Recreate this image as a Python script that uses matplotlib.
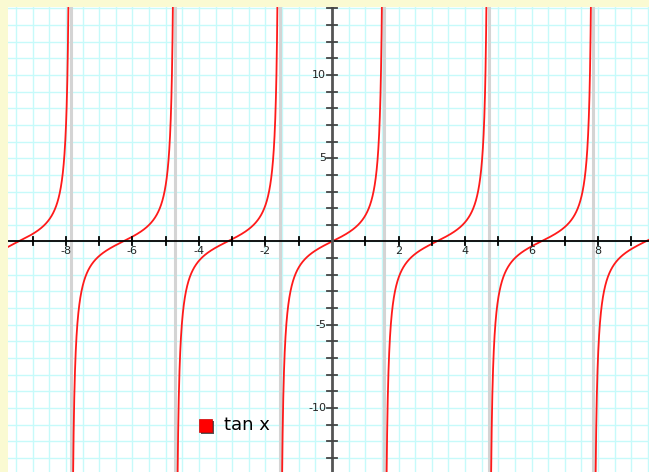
import numpy as np
import matplotlib
matplotlib.use("Agg")
import matplotlib.pyplot as plt
from matplotlib.patches import Rectangle

# Viewing window
x_min, x_max = -9.74, 9.53
y_min, y_max = -13.84, 14.08

# Axis labels
x_tick_labels = [-8, -6, -4, -2, 2, 4, 6, 8]
y_tick_labels = [-10, -5, 5, 10]

# Vertical asymptotes of tan x inside the window
asymptotes = [-5 * np.pi / 2, -3 * np.pi / 2, -np.pi / 2,
              np.pi / 2, 3 * np.pi / 2, 5 * np.pi / 2]

legend_label = "tan x"

W, H = 649, 472
fig = plt.figure(figsize=(W / 100, H / 100), dpi=100)
fig.patch.set_facecolor("#fafad2")
ax = fig.add_axes([8 / W, 0, (W - 8) / W, (H - 7) / H])
ax.set_facecolor("white")
ax.set_xlim(x_min, x_max)
ax.set_ylim(y_min, y_max)
for s in ax.spines.values():
    s.set_visible(False)
ax.set_xticks([])
ax.set_yticks([])

grid_c = "#c6fafa"
for gx in np.arange(np.ceil(x_min * 2) / 2, x_max, 0.5):
    ax.axvline(gx, color=grid_c, lw=1.0, zorder=0)
for gy in np.arange(np.ceil(y_min), y_max, 1.0):
    ax.axhline(gy, color=grid_c, lw=1.0, zorder=0)

# asymptote guides
for a in asymptotes:
    ax.axvline(a, color="#d4d4d4", lw=2.2, zorder=1)

# tan x, split at asymptotes
x = np.linspace(x_min, x_max, 8000)
y = np.tan(x)
y[np.abs(y) > 40] = np.nan
for a in asymptotes:
    y[np.abs(x - a) < 0.004] = np.nan
ax.plot(x, y, color="#ff1a1a", lw=1.3, zorder=3)

# axes through the origin
ax.axhline(0, color="black", lw=1.3, zorder=4)
ax.axvline(0, color="#555555", lw=2.0, zorder=4)

# ticks
dx = (x_max - x_min) / (W - 8)
dy = (y_max - y_min) / (H - 7)
for t in range(int(np.ceil(x_min)), int(np.floor(x_max)) + 1):
    if t == 0:
        continue
    ax.plot([t, t], [-4 * dy, 4 * dy], color="black", lw=1.3, zorder=5)
for t in range(int(np.ceil(y_min)), int(np.floor(y_max)) + 1):
    if t == 0:
        continue
    ax.plot([-5 * dx, 5 * dx], [t, t], color="#444444", lw=1.3, zorder=5)

for t in x_tick_labels:
    ax.text(t, -5 * dy, str(t), ha="center", va="top", fontsize=8,
            color="#222222", zorder=6)
for t in y_tick_labels:
    ax.text(-6 * dx, t, str(t), ha="right", va="center", fontsize=8,
            color="#222222", zorder=6)

# legend
lx, ly = -4.0, -11.0
ax.add_patch(Rectangle((lx + 2 * dx, ly - 9 * dy), 13 * dx, 13 * dy,
                       facecolor="#555555", edgecolor="none", zorder=6))
ax.add_patch(Rectangle((lx, ly - 7 * dy), 13 * dx, 13 * dy,
                       facecolor="#ff0000", edgecolor="#cc0000", lw=0.5, zorder=7))
ax.text(lx + 25 * dx, ly, legend_label, ha="left", va="center",
        fontsize=13, color="black", zorder=7)

fig.savefig("out.png", dpi=100, facecolor=fig.get_facecolor())
